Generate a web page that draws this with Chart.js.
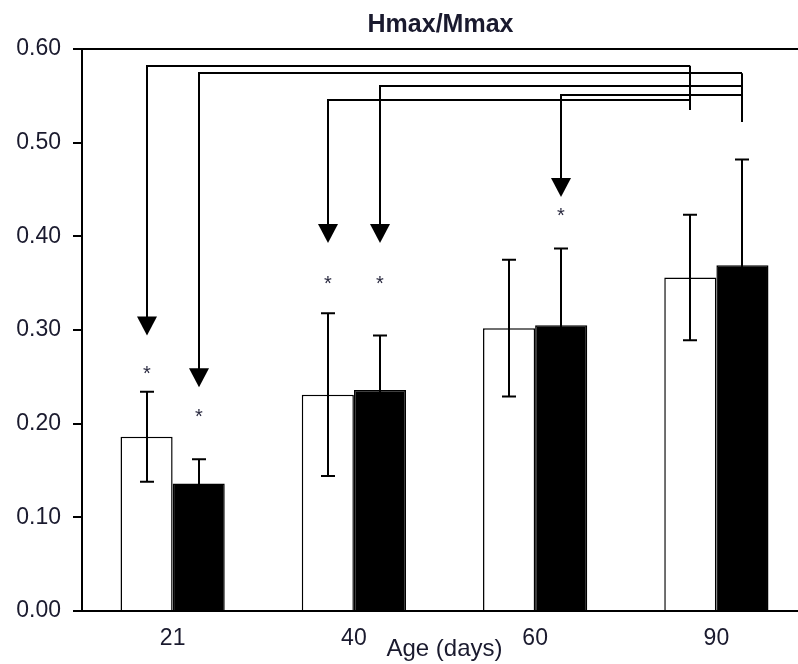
<!DOCTYPE html>
<html>
<head>
<meta charset="utf-8">
<script src="https://cdn.jsdelivr.net/npm/chart.js@4/dist/chart.umd.min.js"></script>
<style>
  body { margin: 0; overflow: hidden; background: #fff; }
  #wrap { width: 812px; height: 664px; }
</style>
</head>
<body>
<div id="wrap"><canvas id="myChart" width="812" height="664"></canvas></div>
<script>
"use strict";

// Data

const ages = ["21", "40", "60", "90"];
const openBars = [0.186, 0.231, 0.302, 0.356];
const openErr = [0.048, 0.087, 0.073, 0.067];
const filledBars = [0.136, 0.236, 0.305, 0.369];
const filledErr = [0.026, 0.058, 0.082, 0.113];
const yTicks = [0, 0.1, 0.2, 0.3, 0.4, 0.5, 0.6];

// significance arrows: target bar (category, series), bracket level, arrow tip, asterisk
const arrowCats = [0, 0, 1, 1, 2];
const arrowSeries = [0, 1, 0, 1, 1];
const arrowLevels = [0.582, 0.574, 0.546, 0.56, 0.551];
const arrowTips = [0.294, 0.239, 0.393, 0.393, 0.442];
const starValues = [0.258, 0.212, 0.354, 0.354, 0.427];
// bracket drop ends over the 90-day bars (series 0, series 1)
const dropEnds = [0.535, 0.522];

const FONT = "'Liberation Sans', Arial, sans-serif";
const INK = "#000";
const TEXT = "#1a1a2e";

// Error bars

const errorBars = {
  id: "errorBars",
  afterDatasetsDraw(chart) {
    const ctx = chart.ctx;
    const y = chart.scales.y;
    const errs = [openErr, filledErr];
    ctx.save();
    ctx.strokeStyle = INK;
    ctx.lineWidth = 2;
    chart.data.datasets.forEach((ds, d) => {
      const meta = chart.getDatasetMeta(d);
      meta.data.forEach((bar, i) => {
        const v = ds.data[i];
        const hi = y.getPixelForValue(v + errs[d][i]);
        const lo = y.getPixelForValue(v - errs[d][i]);
        const x = Math.round(bar.x);
        ctx.beginPath();
        ctx.moveTo(x, hi);
        ctx.lineTo(x, lo);
        ctx.moveTo(x - 7, hi);
        ctx.lineTo(x + 7, hi);
        ctx.moveTo(x - 7, lo);
        ctx.lineTo(x + 7, lo);
        ctx.stroke();
      });
    });
    ctx.restore();
  },
};

// Arrows, asterisks, frame and title

const annotations = {
  id: "annotations",
  afterDraw(chart) {
    const ctx = chart.ctx;
    const y = chart.scales.y;
    const area = chart.chartArea;
    const barX = (s, c) => Math.round(chart.getDatasetMeta(s).data[c].x);
    ctx.save();

    // top frame line
    ctx.strokeStyle = INK;
    ctx.lineWidth = 2;
    ctx.beginPath();
    ctx.moveTo(area.left, area.top);
    ctx.lineTo(area.right, area.top);
    ctx.stroke();

    // drops over the 90-day bars
    dropEnds.forEach((v, s) => {
      const topMost = Math.min(
        ...arrowLevels.filter((_, k) => arrowSeries[k] === s).map((l) => y.getPixelForValue(l))
      );
      const x = barX(s, 3);
      ctx.beginPath();
      ctx.moveTo(x, topMost);
      ctx.lineTo(x, y.getPixelForValue(v));
      ctx.stroke();
    });

    arrowCats.forEach((c, k) => {
      const s = arrowSeries[k];
      const x = barX(s, c);
      const x2 = barX(s, 3);
      const ly = Math.round(y.getPixelForValue(arrowLevels[k]));
      const tip = y.getPixelForValue(arrowTips[k]);
      ctx.beginPath();
      ctx.moveTo(x2, ly);
      ctx.lineTo(x, ly);
      ctx.lineTo(x, tip - 15);
      ctx.stroke();
      ctx.fillStyle = INK;
      ctx.beginPath();
      ctx.moveTo(x - 10, tip - 19);
      ctx.lineTo(x + 10, tip - 19);
      ctx.lineTo(x, tip);
      ctx.closePath();
      ctx.fill();

      // asterisk
      ctx.fillStyle = "#2a2a40";
      ctx.font = "20px " + FONT;
      ctx.textAlign = "center";
      ctx.textBaseline = "alphabetic";
      ctx.fillText("*", x, y.getPixelForValue(starValues[k]) + 11);
    });

    // title
    ctx.fillStyle = TEXT;
    ctx.font = "bold 25px " + FONT;
    ctx.textAlign = "center";
    ctx.textBaseline = "middle";
    ctx.fillText("Hmax/Mmax", (area.left + area.right) / 2 - 4, 25);

    ctx.restore();
  },
};

const ctx = document.getElementById("myChart").getContext("2d");
const myChart = new Chart(ctx, {
  type: "bar",
  data: {
    labels: ages,
    datasets: [
      {
        label: "open",
        data: openBars,
        backgroundColor: "#fff",
        borderColor: INK,
        borderWidth: 1.5,
      },
      {
        label: "filled",
        data: filledBars,
        backgroundColor: INK,
        borderColor: INK,
        borderWidth: 1.5,
      },
    ],
  },
  options: {
    responsive: false,
    animation: false,
    devicePixelRatio: 1,
    categoryPercentage: 0.575,
    barPercentage: 1,
    layout: { padding: { top: 49, right: 5, left: 0, bottom: 0 } },
    plugins: {
      legend: { display: false },
      tooltip: { enabled: false },
    },
    scales: {
      x: {
        grid: { display: false },
        border: { display: true, color: INK, width: 2 },
        ticks: { color: TEXT, font: { family: FONT, size: 23 }, padding: 6 },
        title: {
          display: true,
          text: "Age (days)",
          color: TEXT,
          font: { family: FONT, size: 24 },
          padding: { top: 0, bottom: 0 },
        },
        afterFit(scale) {
          scale.height = 53;
        },
      },
      y: {
        min: 0,
        max: 0.6,
        afterBuildTicks(scale) {
          scale.ticks = yTicks.map((v) => ({ value: v }));
        },
        grid: {
          display: true,
          drawOnChartArea: false,
          drawTicks: true,
          tickLength: 9,
          color: INK,
          lineWidth: 2,
        },
        border: { display: true, color: INK, width: 2 },
        ticks: {
          color: TEXT,
          font: { family: FONT, size: 23 },
          padding: 12,
          callback: (v) => Number(v).toFixed(2),
        },
        afterFit(scale) {
          scale.width = 82;
        },
      },
    },
  },
  plugins: [errorBars, annotations],
});
</script>
</body>
</html>
